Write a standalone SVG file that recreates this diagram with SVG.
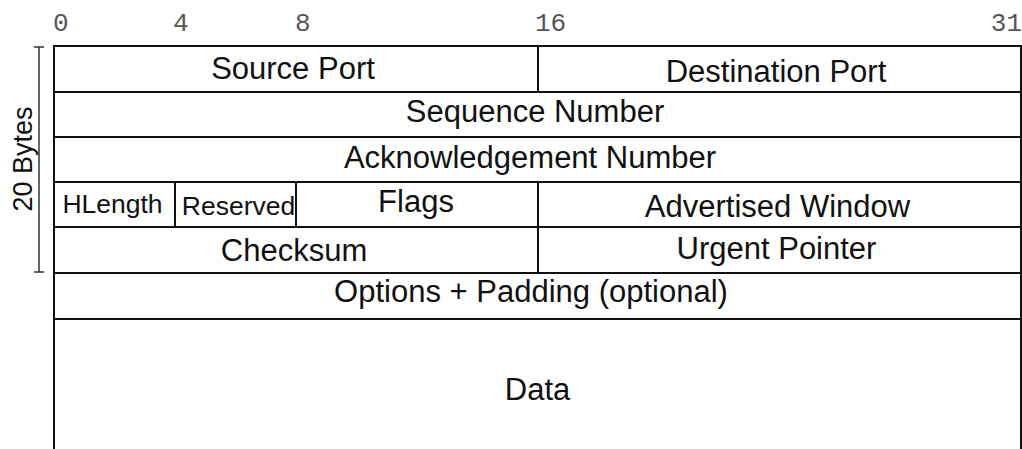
<svg xmlns="http://www.w3.org/2000/svg" width="1022" height="449" viewBox="0 0 1022 449">
  <style>
    .cell { fill: #ffffff; stroke: #111111; stroke-width: 2; }
    .open { fill: none; stroke: #111111; stroke-width: 2; }
    .lbl { font-family: "Liberation Sans", Arial, sans-serif; font-size: 31px; fill: #111111; text-anchor: middle; }
    .small { font-size: 26.5px; }
    .side { font-size: 27px; }
    .bit { font-family: "Liberation Mono", "Courier New", monospace; font-size: 26px; fill: #555555; }
    .brace { fill: none; stroke: #333333; stroke-width: 1.5; }
  </style>

  <rect width="1022" height="449" fill="#ffffff"/>

  <!-- bit offsets along the top -->
  <g id="bit-ruler">
    <text class="bit" x="53" y="31">0</text>
    <text class="bit" x="173" y="31">4</text>
    <text class="bit" x="295" y="31">8</text>
    <text class="bit" x="535" y="31">16</text>
    <text class="bit" x="1022" y="31" text-anchor="end">31</text>
  </g>

  <!-- header size bracket -->
  <g id="header-size">
    <path class="brace" d="M34 47 H44 M39 47 V272 M34 272 H44"/>
    <text class="lbl side" transform="translate(32 159) rotate(-90)">20 Bytes</text>
  </g>

  <!-- header fields, one row per 32-bit word -->
  <g id="source-port">
    <rect class="cell" x="54" y="46" width="484" height="46"/>
    <text class="lbl" x="293" y="79">Source Port</text>
  </g>
  <g id="destination-port">
    <rect class="cell" x="538" y="46" width="483" height="46"/>
    <text class="lbl" x="776" y="82">Destination Port</text>
  </g>
  <g id="sequence-number">
    <rect class="cell" x="54" y="92" width="967" height="45"/>
    <text class="lbl" x="535" y="122">Sequence Number</text>
  </g>
  <g id="ack-number">
    <rect class="cell" x="54" y="137" width="967" height="45"/>
    <text class="lbl" x="530" y="168">Acknowledgement Number</text>
  </g>
  <g id="hlength">
    <rect class="cell" x="54" y="182" width="121" height="45"/>
    <text class="lbl small" x="112.5" y="213">HLength</text>
  </g>
  <g id="reserved">
    <rect class="cell" x="175" y="182" width="121" height="45"/>
    <text class="lbl small" x="238.5" y="215">Reserved</text>
  </g>
  <g id="flags">
    <rect class="cell" x="296" y="182" width="242" height="45"/>
    <text class="lbl" x="416" y="212">Flags</text>
  </g>
  <g id="advertised-window">
    <rect class="cell" x="538" y="182" width="483" height="45"/>
    <text class="lbl" x="777.5" y="217">Advertised Window</text>
  </g>
  <g id="checksum">
    <rect class="cell" x="54" y="227" width="484" height="46"/>
    <text class="lbl" x="294" y="261">Checksum</text>
  </g>
  <g id="urgent-pointer">
    <rect class="cell" x="538" y="227" width="483" height="46"/>
    <text class="lbl" x="776.5" y="259">Urgent Pointer</text>
  </g>
  <g id="options">
    <rect class="cell" x="54" y="273" width="967" height="46"/>
    <text class="lbl" x="531" y="302">Options + Padding (optional)</text>
  </g>
  <g id="data">
    <path class="open" d="M54 449 V319 H1021 V449"/>
    <text class="lbl" x="537.5" y="400">Data</text>
  </g>

  <g id="connectors"></g>
</svg>
